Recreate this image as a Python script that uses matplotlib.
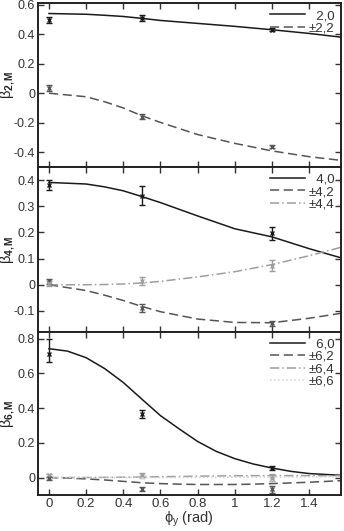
import numpy as np
import matplotlib.pyplot as plt

plt.rcParams['font.family'] = ['Liberation Sans', 'DejaVu Sans']
plt.rcParams['mathtext.fontset'] = 'custom'
plt.rcParams['mathtext.rm'] = 'Liberation Sans'
plt.rcParams['mathtext.it'] = 'Liberation Sans:italic'
plt.rcParams['mathtext.bf'] = 'Liberation Sans:bold'

# angle axis (rad)
phi = [0, 0.2, 0.3, 0.4, 0.5, 0.6, 0.8, 1.0, 1.2, 1.4, 1.571]
phi6 = [0, 0.1, 0.2, 0.3, 0.4, 0.5, 0.6, 0.7, 0.8, 0.9, 1.0, 1.1, 1.2, 1.3, 1.4, 1.571]
phi_meas = [0, 0.5, 1.2]

# --- panel 1 : beta_2,M ---
b20 = [0.54, 0.535, 0.528, 0.52, 0.507, 0.493, 0.473, 0.453, 0.43, 0.405, 0.38]
b22 = [0, -0.024, -0.058, -0.10, -0.153, -0.198, -0.28, -0.34, -0.391, -0.43, -0.455]
m20 = [0.498, 0.51, 0.43]
e20 = [0.02, 0.02, 0.01]
m22 = [0.038, -0.158, -0.362]
e22 = [0.02, 0.015, 0.01]

# --- panel 2 : beta_4,M ---
b40 = [0.391, 0.385, 0.374, 0.359, 0.337, 0.314, 0.263, 0.214, 0.183, 0.138, 0.103]
b42 = [0, -0.022, -0.04, -0.06, -0.083, -0.103, -0.131, -0.144, -0.145, -0.128, -0.109]
b44 = [0, 0.0, 0.001, 0.003, 0.007, 0.013, 0.03, 0.05, 0.077, 0.111, 0.143]
m40 = [0.382, 0.34, 0.196]
e40 = [0.02, 0.037, 0.025]
m42 = [0.013, -0.09, -0.147]
e42 = [0.01, 0.015, 0.01]
m44 = [0.005, 0.013, 0.073]
e44 = [0.008, 0.015, 0.02]

# --- panel 3 : beta_6,M ---
b60 = [0.743, 0.729, 0.691, 0.628, 0.548, 0.452, 0.357, 0.281, 0.208, 0.151,
       0.109, 0.078, 0.055, 0.036, 0.023, 0.013]
b62 = [0, -0.003, -0.008, -0.014, -0.022, -0.03, -0.035, -0.038, -0.04, -0.04,
       -0.04, -0.038, -0.035, -0.031, -0.027, -0.018]
b64 = [0, 0.0, 0.0, 0.001, 0.002, 0.003, 0.005, 0.006, 0.008, 0.009,
       0.01, 0.011, 0.011, 0.011, 0.011, 0.01]
b66 = [0, 0.0, 0.0, 0.0, 0.0, 0.0, 0.0, 0.001, 0.001, 0.001,
       0.002, 0.002, 0.003, 0.003, 0.004, 0.004]
m60 = [0.71, 0.367, 0.056]
e60 = [[0.045, 0.025, 0.01], [0.09, 0.025, 0.01]]
m62 = [-0.005, -0.067, -0.067]
e62 = [0.01, 0.01, 0.02]
m64 = [0.012, 0.015, 0.0]
e64 = [0.01, 0.01, 0.02]
m66 = [0.008, 0.005, -0.01]
e66 = [0.01, 0.01, 0.01]

c0 = '#1a1a1a'
c2 = '#555555'
c4 = '#9e9e9e'
c6 = '#d0d0d0'

fig = plt.figure(figsize=(3.44, 5.31), dpi=100)
left, width = 0.110, 0.881
ax1 = fig.add_axes([left, 0.6855, width, 0.3085])
ax2 = fig.add_axes([left, 0.375, width, 0.3105])
ax3 = fig.add_axes([left, 0.068, width, 0.307])

def errs(ax, y, e, c):
    ax.errorbar(phi_meas, y, yerr=e, fmt='x', color=c, ms=3, mew=1,
                elinewidth=1, capsize=2, capthick=1)

# panel 1
ax1.plot(phi, b20, '-', color=c0, lw=1.1, label='  2,0')
ax1.plot(phi, b22, '--', color=c2, lw=1.1, dashes=(6, 3), label='±2,2')
errs(ax1, m20, e20, c0)
errs(ax1, m22, e22, c2)
ax1.set_ylim(-0.5, 0.61)
ax1.set_yticks([-0.4, -0.2, 0, 0.2, 0.4, 0.6])
ax1.set_yticklabels(['-0.4', '-0.2', '0', '0.2', '0.4', '0.6'])

# panel 2
ax2.plot(phi, b40, '-', color=c0, lw=1.1, label='  4,0')
ax2.plot(phi, b42, '--', color=c2, lw=1.1, dashes=(6, 3), label='±4,2')
ax2.plot(phi, b44, '-.', color=c4, lw=1.1, dashes=(6, 2, 1, 2), label='±4,4')
errs(ax2, m40, e40, c0)
errs(ax2, m42, e42, c2)
errs(ax2, m44, e44, c4)
ax2.set_ylim(-0.18, 0.45)
ax2.set_yticks([-0.1, 0, 0.1, 0.2, 0.3, 0.4])
ax2.set_yticklabels(['-0.1', '0', '0.1', '0.2', '0.3', '0.4'])

# panel 3
ax3.plot(phi6, b60, '-', color=c0, lw=1.1, label='  6,0')
ax3.plot(phi6, b62, '--', color=c2, lw=1.1, dashes=(6, 3), label='±6,2')
ax3.plot(phi6, b64, '-.', color=c4, lw=1.1, dashes=(6, 2, 1, 2), label='±6,4')
ax3.plot(phi6, b66, ':', color=c6, lw=1.1, label='±6,6')
errs(ax3, m66, e66, c6)
errs(ax3, m64, e64, c4)
errs(ax3, m62, e62, c2)
errs(ax3, m60, e60, c0)
ax3.set_ylim(-0.1, 0.84)
ax3.set_yticks([0, 0.2, 0.4, 0.6, 0.8])
ax3.set_yticklabels(['0', '0.2', '0.4', '0.6', '0.8'])

xt = [0, 0.2, 0.4, 0.6, 0.8, 1.0, 1.2, 1.4]
for ax, lab in [(ax1, '2'), (ax2, '4'), (ax3, '6')]:
    ax.set_xlim(-0.06, 1.571)
    ax.set_xticks(xt)
    ax.tick_params(direction='in', top=True, right=True, labelsize=9.5,
                   length=4, width=1, colors='#333333', pad=2)
    ax.tick_params(axis='y', labelsize=9)
    for s in ax.spines.values():
        s.set_linewidth(1.4)
        s.set_color('#222222')
    ax.set_ylabel('β$_{\\mathbf{' + lab + ',M}}$', fontsize=10.5, color='#222222')
    ax.yaxis.set_label_coords(-0.068, 0.5)
    ax.legend(loc='upper right', frameon=False, fontsize=9.5, handlelength=2.6,
              handletextpad=0.3, borderaxespad=0.1, labelspacing=0.0,
              labelcolor='#333333')
ax1.set_xticklabels([])
ax2.set_xticklabels([])
ax3.set_xticklabels(['0', '0.2', '0.4', '0.6', '0.8', '1', '1.2', '1.4'])
ax3.set_xlabel('ϕ$_\\mathrm{y}$ (rad)', fontsize=10.5, labelpad=0, color='#333333')

fig.savefig('out.png', dpi=100)
